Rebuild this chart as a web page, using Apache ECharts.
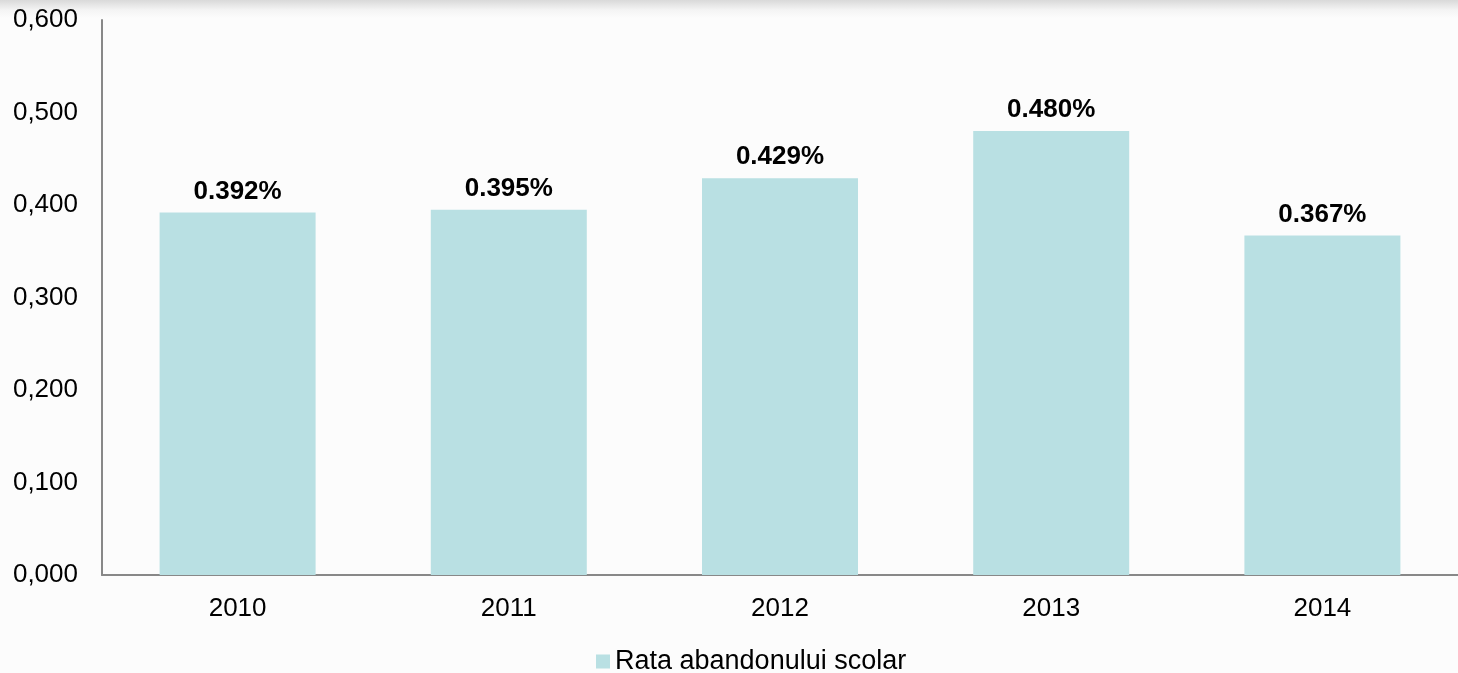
<!DOCTYPE html>
<html>
<head>
<meta charset="utf-8">
<script src="https://cdn.jsdelivr.net/npm/echarts@6/dist/echarts.min.js"></script>
<style>
  html, body { margin: 0; padding: 0; }
  body { background: linear-gradient(to bottom, #d9d9d9 0px, #f4f4f4 10px, #fcfcfc 18px, #fcfcfc 100%); }
  #chart { width: 1458px; height: 673px; }
</style>
</head>
<body>
<div id="chart"></div>
<script>
// anii si rata abandonului
var years = ['2010', '2011', '2012', '2013', '2014'];
var rata = [0.392, 0.395, 0.429, 0.480, 0.367];
var seriesName = 'Rata abandonului scolar';

var chart = echarts.init(document.getElementById('chart'));
chart.setOption({
  backgroundColor: 'transparent',
  animation: false,
  textStyle: { fontFamily: 'Liberation Sans, Arial, sans-serif' },
  grid: { left: 102, right: -6, top: 20, bottom: 98, containLabel: false },
  legend: {
    data: [seriesName],
    bottom: -7,
    left: 591,
    itemWidth: 14,
    itemHeight: 14,
    itemGap: 7,
    icon: 'rect',
    textStyle: { fontSize: 27, color: '#000', fontFamily: 'Liberation Sans, Arial, sans-serif' }
  },
  xAxis: {
    type: 'category',
    data: years,
    axisLine: { lineStyle: { color: '#888', width: 2 } },
    axisTick: { show: false },
    axisLabel: { fontSize: 26, color: '#000', margin: 21 }
  },
  yAxis: {
    type: 'value',
    min: 0,
    max: 0.6,
    interval: 0.1,
    axisLine: { show: true, lineStyle: { color: '#888', width: 2 } },
    axisTick: { show: false },
    splitLine: { show: false },
    axisLabel: {
      fontSize: 26,
      color: '#000',
      margin: 24,
      formatter: function (v) { return v.toFixed(3).replace('.', ','); }
    }
  },
  series: [{
    name: seriesName,
    type: 'bar',
    data: rata,
    barWidth: 156,
    itemStyle: { color: '#b9e0e3' },
    label: {
      show: true,
      position: 'top',
      distance: 8,
      fontSize: 26,
      fontWeight: 'bold',
      color: '#000',
      formatter: function (p) { return p.value.toFixed(3) + '%'; }
    }
  }]
});
</script>
</body>
</html>
